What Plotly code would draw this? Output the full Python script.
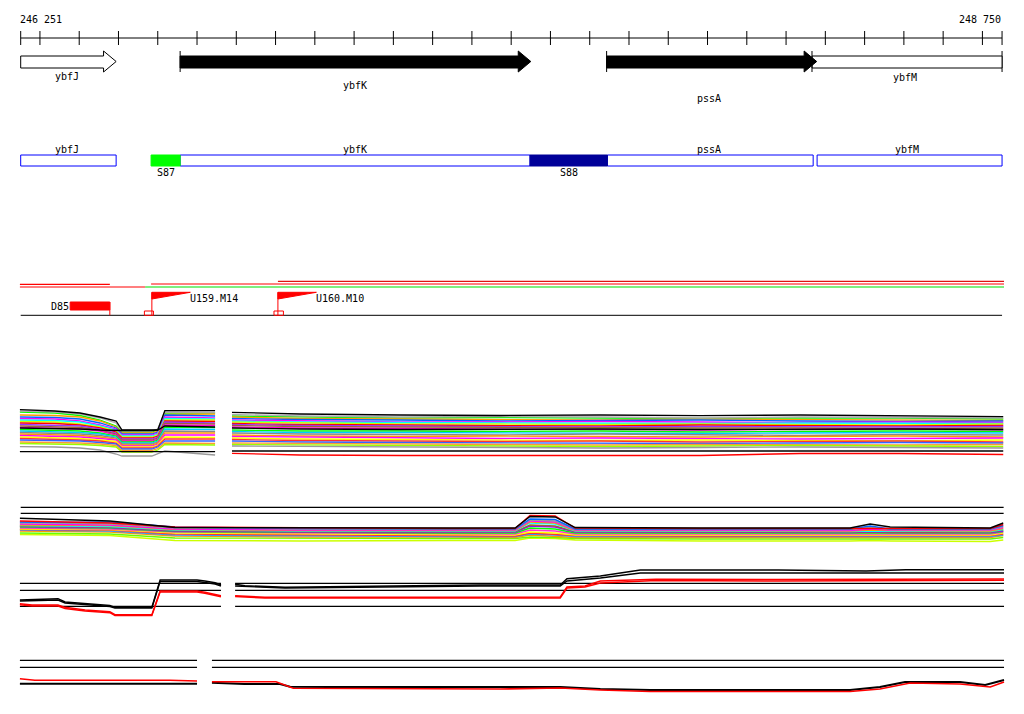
import plotly.graph_objects as go

# ---------------- data ----------------
RULER_START, RULER_END = 246251, 248750
ruler_ticks = [246251] + list(range(246300, 248701, 100)) + [248750]
ruler_labels = ["246 251", "248 750"]

gene_names = ["ybfJ", "ybfM", "ybfK", "pssA"]
gene_start = [246251, 248266, 246657, 247743]
gene_end = [246494, 248750, 247550, 248278]
gene_fill = ["white", "white", "black", "black"]
gene_arrow = [True, False, True, True]
gene_label_x = [246369, 248503, 247102, 248004]

box_names = ["ybfJ", "ybfK", "pssA", "ybfM"]
box_start = [246251, 246657, 247745, 248279]
box_end = [246494, 247548, 248269, 248750]
box_label_x = [246369, 247102, 248004, 248508]

seg_names = ["S87", "S88"]
seg_start = [246583, 247548]
seg_end = [246657, 247745]
seg_colors = ["#00ff00", "#000099"]

cov_start = [246249, 246249, 246568, 246583, 246906]
cov_end = [246478, 246568, 248755, 248755, 248755]
cov_colors = ["#ff0000", "#ff0000", "#00dd00", "#ff0000", "#dd1111"]

del_name, del_start, del_end = "D85", 246377, 246478
flag_names = ["U159.M14", "U160.M10"]
flag_pos = [246585, 246906]
flag_len = 98
sq_start = [246566, 246896]
sq_end = [246589, 246920]

# panel 1 (many samples)
p1_xl = [246249, 246338, 246402, 246453, 246494, 246509, 246585, 246600, 246618, 246746]
p1_xr = [246789, 246962, 247217, 247472, 247727, 247982, 248236, 248490, 248753]
p1_colors = ["#00ff00", "#ff9900", "#0066ff", "#ff00ff", "#00ffff", "#ccff00", "#ff0000",
             "#9933ff", "#996633", "#ff00cc", "#00ff00", "#00ccff", "#888888", "#ff9900",
             "#ff00ff", "#ffff00", "#ff3333", "#3366ff", "#ff9933", "#99ff00",
             "#999999", "#aaaaaa", "#000000", "#000000", "#000000", "#ff0000"]
p1_left = [
    [12, 13, 15.5, 20, 26, 32, 32, 30, 13, 13],
    [15, 15.5, 17, 21, 27, 33, 33, 31, 14.5, 14],
    [17, 17.5, 19, 23, 28, 34, 34, 32, 15, 16],
    [18.5, 19, 21, 25, 29, 35, 35, 33, 17, 18],
    [20, 20.5, 22, 26, 30, 36, 36, 34, 18.5, 19],
    [21.5, 22, 24, 27, 31, 37, 37, 35, 20, 20],
    [23, 23.5, 25, 28, 32, 38, 38, 36, 21, 21.5],
    [24.5, 25, 26, 29, 33, 39, 39, 37, 22, 23],
    [26, 26.5, 27.5, 30, 34, 40, 40, 38, 23.5, 24],
    [27.5, 28, 29, 31, 35, 41, 41, 39, 25, 25.5],
    [29.5, 30, 31, 33, 36, 42, 42, 40, 27, 27.5],
    [31, 31.5, 32.5, 34, 37, 43, 43, 41, 29, 29.5],
    [32.5, 33, 34, 35.5, 38, 44, 44, 42, 31, 31.5],
    [34, 34.5, 35.5, 37, 39, 45, 45, 43, 33, 33],
    [35.5, 36, 37, 38.5, 40, 46, 46, 44, 35, 35],
    [37, 37.5, 38.5, 40, 41.5, 47, 47, 45, 37, 37.5],
    [38.5, 39, 40, 41, 43, 48, 48, 46, 39, 39],
    [40, 40.5, 41, 42.5, 44, 49, 49, 47, 41, 41],
    [42, 42.5, 43, 44, 45.5, 50.5, 50.5, 48.5, 43, 43.5],
    [43.5, 44, 44.5, 45.5, 47, 52, 52, 50, 44.5, 45],
    [46.7, 47, 48, 50, 54, 56, 56, 54, 51, 55],
    [11, 12, 14, 18, 23, 31, 31, 29, 12, 12.5],
    [28, 28.5, 29, 30, 30.5, 30.5, 30.5, 30, 26, 27],
    [9.7, 11, 13, 17, 21, 30, 30, 30, 10.7, 10.7],
    [51.7, 51.7, 51.7, 51.7, 51.7, 51.7, 51.7, 51.7, 51.7, 51.7],
    [None] * 10,
]
p1_right = [
    [16, 17, 18, 17.5, 18, 18.5, 18, 18, 19],
    [17, 18.5, 19, 19.5, 20, 19, 19.5, 20, 20.5],
    [18.5, 19.5, 20, 21, 20.5, 20, 21, 21.5, 21],
    [20, 21, 22, 22, 21.5, 22, 22.5, 22, 22.5],
    [21, 22, 22.5, 23, 23, 23.5, 23, 23, 23.5],
    [22, 23, 24, 24, 24.5, 24, 24.5, 25, 24],
    [23.5, 24.5, 25, 25.5, 26, 25, 25.5, 26, 25.5],
    [24.5, 25.5, 26, 26.5, 27, 26.5, 27, 27, 26.5],
    [25.5, 26.5, 27, 27.5, 28, 28, 28, 28.5, 28],
    [27, 28, 28.5, 29, 29.5, 30, 29.5, 29, 30],
    [30, 31, 31, 31.5, 31, 32, 31.5, 31, 31.5],
    [31.5, 32.5, 32.5, 33, 33, 33.5, 33, 32.5, 33],
    [33, 34, 34.5, 35, 34, 35, 35.5, 34.5, 35],
    [35, 36, 36.5, 36, 36.5, 37, 36.5, 36, 37],
    [36.5, 37, 38, 38.5, 38, 38.5, 39, 38.5, 38],
    [38, 39, 39.5, 40, 40.5, 40, 40.5, 41, 40],
    [39.5, 40.5, 41, 41.5, 41, 42, 41.5, 41, 42],
    [41, 42, 42.5, 43, 43, 43.5, 43, 42.5, 43],
    [43, 43.5, 44, 44.5, 45, 44.5, 45, 45, 44.5],
    [44.5, 45, 45.5, 46, 46.5, 46, 45.5, 46, 46.5],
    [46, 46.5, 47, 47.5, 48, 47.5, 47, 47.5, 48],
    [14.5, 16, 17, 16.5, 17, 18, 17, 17.5, 18],
    [28, 29, 29.5, 29, 29, 29.5, 29, 29, 29.5],
    [12.3, 14, 15, 15.5, 15, 15.7, 15, 15.5, 16.7],
    [51, 51, 51, 51, 51, 51, 51, 51, 51],
    [53.3, 55, 55.5, 55.5, 55.5, 55.5, 53.5, 53.5, 54.5],
]

# panel 2
p2_thresholds = [7.3, 13.3]
p2_x = [246249, 246351, 246478, 246644, 246962, 247344, 247510, 247548, 247612, 247663,
        247982, 248363, 248414, 248465, 248720, 248753]
p2_colors = ["#ccff00", "#66ff00", "#ff9900", "#3399ff", "#ff3333", "#ffff00", "#ff33cc",
             "#00ff00", "#9900ff", "#996633", "#00ffff", "#ff9900", "#ff00ff", "#999999",
             "#0066ff", "#ff0000", "#000000"]
p2_values = [
    [34.5, 35, 35.5, 40.5, 41, 40.5, 40.5, 38, 38.5, 40, 41, 41, 40.5, 41, 41.5, 40],
    [33, 33.5, 34, 38, 38.5, 38.5, 38.5, 37, 37.5, 38.5, 39, 39, 39, 39, 39, 37.5],
    [31, 31.5, 32, 36, 37, 37, 37.5, 35, 36, 37.5, 37.5, 37.5, 37.5, 37.5, 37.5, 35.5],
    [30, 30.5, 31, 35, 36, 36.5, 36.5, 34, 35, 36.5, 36.5, 37, 37, 36.5, 36.5, 35],
    [29.5, 30, 30, 34, 35, 35.5, 36, 33, 34, 35.5, 36, 36, 36, 36, 35.5, 34],
    [29, 29.5, 29.5, 33, 34, 34.5, 35, 32, 33, 35, 35, 35, 35, 35, 35, 33],
    [28, 28.5, 29, 32, 33, 33.5, 34, 30, 31, 34, 34, 34, 34, 34, 34, 32],
    [27, 27.5, 28, 31.5, 32.5, 33, 33, 28, 29, 33, 33, 33.5, 33, 33, 33, 31.5],
    [26.5, 27, 27.5, 31, 32, 32, 32, 26, 27, 32, 32.5, 32.5, 32, 32.5, 32.5, 31],
    [26, 26.5, 27, 30.5, 31.5, 31.5, 31.5, 25, 26, 31.5, 32, 32, 31.5, 32, 32, 30],
    [25.5, 26, 26.5, 30, 31, 31, 31, 23, 24, 31, 31.5, 31.5, 31, 31, 31.5, 29.5],
    [25, 25, 25.5, 29.5, 30.5, 30.5, 30.5, 22, 23, 30.5, 31, 31, 30, 30.5, 31, 28.5],
    [24, 24.5, 25, 29, 30, 30, 30, 21, 22, 30, 30, 30.5, 29, 30, 30, 27.5],
    [23, 23, 24, 28, 29, 29, 29.5, 20, 21, 29.5, 29.5, 29.5, 27.5, 29.5, 29.5, 26.5],
    [22, 22.5, 22, 27, 28.5, 29, 29, 19, 19.5, 29, 29, 29, 26, 29, 29, 25.5],
    [21, 22, 23, 27, 28, 28.5, 28.5, 15.5, 16, 28, 28.5, 28.5, 28, 28.5, 28.5, 24.5],
    [18.3, 19.5, 21, 27.5, 28, 28, 28, 16.5, 17, 27.5, 28, 28, 24, 27, 28, 23],
]

# panel 3
p3_thresholds = [23.3, 30.3, 46.3]
p3_segments = [(246249, 246761), (246797, 248755)]
p3_black1_x = [246249, 246346, 246364, 246415, 246478, 246491, 246585, 246606, 246700, 246720, 246746, 246761,
               None, 246797, 246822, 246924, 247420, 247625, 247642, 247727, 247829, 248180, 248292, 248404,
               248505, 248605, 248755]
p3_black1_y = [40, 38.7, 42, 43.3, 45.5, 47.3, 47.3, 20, 20, 21, 22.7, 25,
               None, 24.3, 25.7, 27.3, 25, 25, 18.7, 16, 10, 10, 10.3, 11, 9.7, 9.7, 9.7]
p3_black2_y = [41, 40, 43, 44.5, 46.5, 48, 48, 21.5, 21.5, 22.5, 24, 26,
               None, 26, 26.5, 28, 26, 26, 21, 18, 13, 13, 13, 13.5, 13, 13, 13]
p3_red_x = [246249, 246280, 246346, 246364, 246415, 246478, 246491, 246585, 246606, 246700, 246720, 246746,
            246761, None, 246797, 246873, 247420, 247625, 247642, 247688, 247727, 247869, 248180, 248755]
p3_red1_y = [43.7, 45, 45, 47.3, 50, 51.7, 54.7, 54.7, 31, 31, 32.3, 34.3, 35.7,
             None, 35.7, 37.3, 37.3, 37, 27, 26, 21, 19.3, 19.5, 19]
p3_red2_y = [44.7, 46, 46, 48.5, 51, 52.7, 55.5, 55.5, 32, 32, 33.3, 35.3, 36.7,
             None, 36.5, 38, 38, 38, 28, 27, 23, 20.5, 21, 20.3]

# panel 4
p4_thresholds = [10.3, 17.3]
p4_segments = [(246249, 246700), (246738, 248755)]
p4_black_x = [246249, 246700, None, 246738, 246820, 246911, 246937, 247039, 247472, 247625, 247727, 247854,
              248363, 248439, 248503, 248643, 248707, 248755]
p4_black_y = [33.7, 33.7, None, 32.7, 34, 34, 36.7, 37, 37.5, 37, 39, 40, 40, 37, 32, 32, 35, 30]
p4_red_x = [246249, 246267, 246287, 246631, 246700, None, 246738, 246901, 246945, 247217, 247472, 247625,
            247727, 247854, 248363, 248439, 248516, 248643, 248720, 248755]
p4_red_y = [28.7, 29.3, 30.3, 30.3, 31, None, 31.7, 31.7, 38.3, 38.5, 39, 38, 40, 41.5, 41.5, 39, 33, 34, 37, 32]

# ---------------- layout constants ----------------
OFF = 8                      # page body margin
W, H = 1024 - 2 * OFF, 714 - 2 * OFF
PX_PER_BP = 0.3927
X0_PX = 20.7 - OFF           # where RULER_START sits inside the figure
X_RANGE = [RULER_START - X0_PX / PX_PER_BP, RULER_START + (W - X0_PX) / PX_PER_BP]
FONT = dict(family="DejaVu Sans Mono", size=10, color="black")
RULER_Y = 38
GENE_BODY = (56, 68)
GENE_HEAD = (51, 72)
HEAD_LEN = 32
GENE_LABEL_Y = {"ybfJ": 76, "ybfK": 85, "pssA": 98, "ybfM": 77}
BOX_Y = (155, 166)
COV_Y = [284.3, 287, 287, 284, 281.3]
BASE_Y = 315.3
PANELS = [(400, 465), (500, 550), (560, 620), (650, 700)]


def dom(top, bottom):
    return [1 - (bottom - OFF) / H, 1 - (top - OFF) / H]


fig = go.Figure()
ann = []


def add(x, y, axis="y", color="black", width=1, fill=None, fillcolor=None):
    fig.add_trace(go.Scatter(x=x, y=y, mode="lines", yaxis=axis,
                             line=dict(color=color, width=width),
                             fill=fill, fillcolor=fillcolor, hoverinfo="skip"))


# ruler
add([RULER_START, RULER_END], [RULER_Y, RULER_Y])
fig.add_trace(go.Scatter(x=ruler_ticks, y=[RULER_Y] * len(ruler_ticks), mode="markers",
                         marker=dict(symbol="line-ns", size=10, line=dict(color="black", width=1)),
                         hoverinfo="skip"))
ann.append(dict(x=RULER_START, y=19, text=ruler_labels[0], xanchor="left", xshift=-3))
ann.append(dict(x=RULER_END, y=19, text=ruler_labels[1], xanchor="right", xshift=1))

# genes
b0, b1 = GENE_BODY
h0, h1 = GENE_HEAD
for n, s, e, f, a, lx in zip(gene_names, gene_start, gene_end, gene_fill, gene_arrow, gene_label_x):
    if a:
        hs = e - HEAD_LEN
        xs = [s, hs, hs, e, hs, hs, s, s]
        ys = [b0, b0, h0, (h0 + h1) / 2, h1, b1, b1, b0]
    else:
        xs = [s, e, e, s, s]
        ys = [b0, b0, b1, b1, b0]
        add([e, e], [h0, h1])
    add(xs, ys, fill="toself", fillcolor=f)
    if f == "black" or not a:
        add([s, s], [h0, h1])
    ann.append(dict(x=lx, y=GENE_LABEL_Y[n], text=n))

# feature boxes
for n, s, e, lx in zip(box_names, box_start, box_end, box_label_x):
    add([s, e, e, s, s], [BOX_Y[0], BOX_Y[0], BOX_Y[1], BOX_Y[1], BOX_Y[0]],
        color="#0000ff", fill="toself", fillcolor="white")
    ann.append(dict(x=lx, y=149, text=n))
for n, s, e, c in zip(seg_names, seg_start, seg_end, seg_colors):
    add([s, e, e, s, s], [BOX_Y[0], BOX_Y[0], BOX_Y[1], BOX_Y[1], BOX_Y[0]],
        color=c, fill="toself", fillcolor=c)
    ann.append(dict(x=(s + e) / 2, y=172.5, text=n))

# coverage lines
for s, e, c, yy in zip(cov_start, cov_end, cov_colors, COV_Y):
    add([s, e], [yy, yy], color=c, width=1.2)

# baseline + deletion + flags
add([RULER_START, RULER_END], [BASE_Y, BASE_Y])
add([del_start, del_end, del_end, del_start, del_start], [302, 302, 310, 310, 302],
    color="#ff0000", fill="toself", fillcolor="#ff0000")
add([del_end, del_end], [302, BASE_Y], color="#ff0000")
ann.append(dict(x=del_start, y=306.5, text=del_name, xanchor="right", xshift=1))
for n, p, a0, a1 in zip(flag_names, flag_pos, sq_start, sq_end):
    add([p, p + flag_len, p, p], [292.3, 292.3, 299, 292.3], color="#ff0000",
        fill="toself", fillcolor="#ff0000")
    add([p, p], [292.3, BASE_Y], color="#ff0000")
    add([a0, a1, a1, a0, a0], [311, 311, BASE_Y, BASE_Y, 311], color="#ff0000")
    ann.append(dict(x=p + flag_len, y=298.5, text=n, xanchor="left", xshift=-2))

# panel 1
for c, L, R in zip(p1_colors, p1_left, p1_right):
    add(p1_xl + [None] + p1_xr, L + [None] + R, axis="y2", color=c, width=1.3)

# panel 2
for t in p2_thresholds:
    add([RULER_START, RULER_END + 4], [t, t], axis="y3", width=1.3)
for c, v in zip(p2_colors, p2_values):
    add(p2_x, v, axis="y3", color=c, width=1.4)

# panel 3
for t in p3_thresholds:
    for s, e in p3_segments:
        add([s, e], [t, t], axis="y4", width=1.3)
add(p3_red_x, p3_red2_y, axis="y4", color="#ff0000", width=1.4)
add(p3_red_x, p3_red1_y, axis="y4", color="#ff0000", width=1.4)
add(p3_black1_x, p3_black2_y, axis="y4", color="black", width=1.4)
add(p3_black1_x, p3_black1_y, axis="y4", color="black", width=1.4)

# panel 4
for t in p4_thresholds:
    for s, e in p4_segments:
        add([s, e], [t, t], axis="y5", width=1.3)
add(p4_black_x, p4_black_y, axis="y5", color="black", width=2)
add(p4_red_x, p4_red_y, axis="y5", color="#ff0000", width=1.6)

for a in ann:
    a.update(xref="x", yref="y", showarrow=False, font=FONT, yanchor="middle")

ax = dict(visible=False, fixedrange=True)
layout = dict(
    width=W, height=H, margin=dict(l=0, r=0, t=0, b=0),
    paper_bgcolor="white", plot_bgcolor="white", showlegend=False,
    xaxis=dict(range=X_RANGE, domain=[0, 1], **ax),
    yaxis=dict(range=[H + OFF, OFF], domain=[0, 1], **ax),
    annotations=ann,
)
for i, (top, bot) in enumerate(PANELS):
    layout[f"yaxis{i + 2}"] = dict(range=[bot - top, 0], domain=dom(top, bot), anchor="x", **ax)
fig.update_layout(**layout)
fig.write_html("out.html", config={"displayModeBar": False})
